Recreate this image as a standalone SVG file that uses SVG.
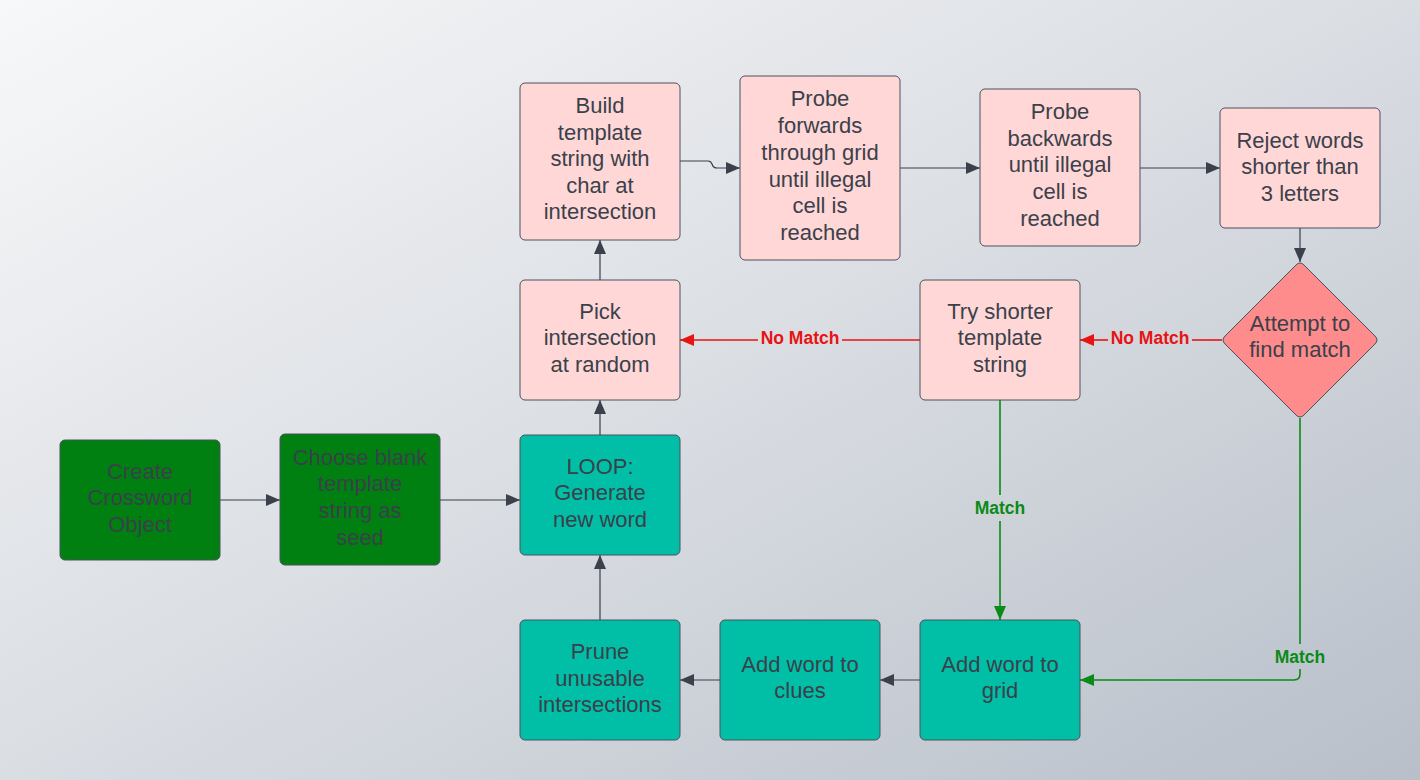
<svg xmlns="http://www.w3.org/2000/svg" width="1420" height="780" viewBox="0 0 1420 780">
<defs>
<linearGradient id="bg" x1="0" y1="0" x2="1" y2="1">
<stop offset="0" stop-color="#f7f8f9"/>
<stop offset="0.45" stop-color="#dde0e5"/>
<stop offset="1" stop-color="#b8bfc9"/>
</linearGradient>
<marker id="ah" viewBox="0 0 14 12" refX="14" refY="6" markerWidth="14" markerHeight="12" markerUnits="userSpaceOnUse" orient="auto">
<path d="M0,0 L14,6 L0,12 Z" fill="#3a414a"/>
</marker>
<marker id="ahr" viewBox="0 0 14 12" refX="14" refY="6" markerWidth="14" markerHeight="12" markerUnits="userSpaceOnUse" orient="auto">
<path d="M0,0 L14,6 L0,12 Z" fill="#e81313"/>
</marker>
<marker id="ahg" viewBox="0 0 14 12" refX="14" refY="6" markerWidth="14" markerHeight="12" markerUnits="userSpaceOnUse" orient="auto">
<path d="M0,0 L14,6 L0,12 Z" fill="#0a8a16"/>
</marker>
</defs>
<style>
.box{stroke:#4a525c;stroke-width:1;}
.dg{fill:#008010;}
.tl{fill:#00bfa6;}
.pk{fill:#ffd7d7;}
.dm{fill:#ff8c8c;}
text{font-family:"Liberation Sans",Arial,sans-serif;font-size:22px;fill:#3a414a;text-anchor:middle;}
.c{fill:none;stroke:#3a414a;stroke-width:1.2;}
.r{fill:none;stroke:#e81313;stroke-width:1.6;}
.g{fill:none;stroke:#0a8a16;stroke-width:1.6;}
.lr{font-size:17.5px;font-weight:bold;fill:#e81313;}
.lg{font-size:17.5px;font-weight:bold;fill:#0a8a16;}
</style>
<rect width="1420" height="780" fill="url(#bg)"/>

<g id="connectors">
<path class="c" d="M220,500 H280" marker-end="url(#ah)"/>
<path class="c" d="M440,500 H520" marker-end="url(#ah)"/>
<path class="c" d="M600,435 V400" marker-end="url(#ah)"/>
<path class="c" d="M600,280 V240" marker-end="url(#ah)"/>
<path class="c" d="M680,161 H708 Q711,161 712,164 Q713,168 717,168 H740" marker-end="url(#ah)"/>
<path class="c" d="M900,168 H980" marker-end="url(#ah)"/>
<path class="c" d="M1140,168 H1220" marker-end="url(#ah)"/>
<path class="c" d="M1300,228 V262" marker-end="url(#ah)"/>
<path class="r" d="M1222,340 H1192"/>
<path class="r" d="M1108,340 H1080" marker-end="url(#ahr)"/>
<text class="lr" x="1150" y="344">No Match</text>
<path class="r" d="M920,340 H842"/>
<path class="r" d="M758,340 H680" marker-end="url(#ahr)"/>
<text class="lr" x="800" y="344">No Match</text>
<path class="g" d="M1000,400 V495"/>
<path class="g" d="M1000,521 V620" marker-end="url(#ahg)"/>
<text class="lg" x="1000" y="514">Match</text>
<path class="g" d="M1300,418 V644"/>
<path class="g" d="M1300,669 V674 Q1300,680 1294,680 H1080" marker-end="url(#ahg)"/>
<text class="lg" x="1300" y="663">Match</text>
<path class="c" d="M920,680 H880" marker-end="url(#ah)"/>
<path class="c" d="M720,680 H680" marker-end="url(#ah)"/>
<path class="c" d="M600,620 V555" marker-end="url(#ah)"/>
</g>

<g id="create">
<rect class="box dg" x="60" y="440" width="160" height="120" rx="5"/>
<text x="140" y="479">Create</text>
<text x="140" y="505">Crossword</text>
<text x="140" y="532">Object</text>
</g>
<g id="choose">
<rect class="box dg" x="280" y="434" width="160" height="131" rx="5"/>
<text x="360" y="465">Choose blank</text>
<text x="360" y="491">template</text>
<text x="360" y="518">string as</text>
<text x="360" y="545">seed</text>
</g>
<g id="loop">
<rect class="box tl" x="520" y="435" width="160" height="120" rx="5"/>
<text x="600" y="474">LOOP:</text>
<text x="600" y="500">Generate</text>
<text x="600" y="527">new word</text>
</g>
<g id="pick">
<rect class="box pk" x="520" y="280" width="160" height="120" rx="5"/>
<text x="600" y="319">Pick</text>
<text x="600" y="345">intersection</text>
<text x="600" y="372">at random</text>
</g>
<g id="build">
<rect class="box pk" x="520" y="83" width="160" height="157" rx="5"/>
<text x="600" y="113">Build</text>
<text x="600" y="140">template</text>
<text x="600" y="166">string with</text>
<text x="600" y="193">char at</text>
<text x="600" y="219">intersection</text>
</g>
<g id="probe-fwd">
<rect class="box pk" x="740" y="76" width="160" height="184" rx="5"/>
<text x="820" y="106">Probe</text>
<text x="820" y="133">forwards</text>
<text x="820" y="160">through grid</text>
<text x="820" y="187">until illegal</text>
<text x="820" y="213">cell is</text>
<text x="820" y="240">reached</text>
</g>
<g id="probe-back">
<rect class="box pk" x="980" y="89" width="160" height="157" rx="5"/>
<text x="1060" y="119">Probe</text>
<text x="1060" y="146">backwards</text>
<text x="1060" y="172">until illegal</text>
<text x="1060" y="199">cell is</text>
<text x="1060" y="226">reached</text>
</g>
<g id="reject">
<rect class="box pk" x="1220" y="108" width="160" height="120" rx="5"/>
<text x="1300" y="148">Reject words</text>
<text x="1300" y="174">shorter than</text>
<text x="1300" y="201">3 letters</text>
</g>
<g id="attempt">
<path class="box dm" d="M1296,265 Q1300,261 1304,265 L1375,336 Q1379,340 1375,344 L1304,415 Q1300,419 1296,415 L1225,344 Q1221,340 1225,336 Z"/>
<text x="1300" y="331">Attempt to</text>
<text x="1300" y="357">find match</text>
</g>
<g id="try-shorter">
<rect class="box pk" x="920" y="280" width="160" height="120" rx="5"/>
<text x="1000" y="319">Try shorter</text>
<text x="1000" y="345">template</text>
<text x="1000" y="372">string</text>
</g>
<g id="add-grid">
<rect class="box tl" x="920" y="620" width="160" height="120" rx="5"/>
<text x="1000" y="672">Add word to</text>
<text x="1000" y="698">grid</text>
</g>
<g id="add-clues">
<rect class="box tl" x="720" y="620" width="160" height="120" rx="5"/>
<text x="800" y="672">Add word to</text>
<text x="800" y="698">clues</text>
</g>
<g id="prune">
<rect class="box tl" x="520" y="620" width="160" height="120" rx="5"/>
<text x="600" y="659">Prune</text>
<text x="600" y="686">unusable</text>
<text x="600" y="712">intersections</text>
</g>
</svg>
